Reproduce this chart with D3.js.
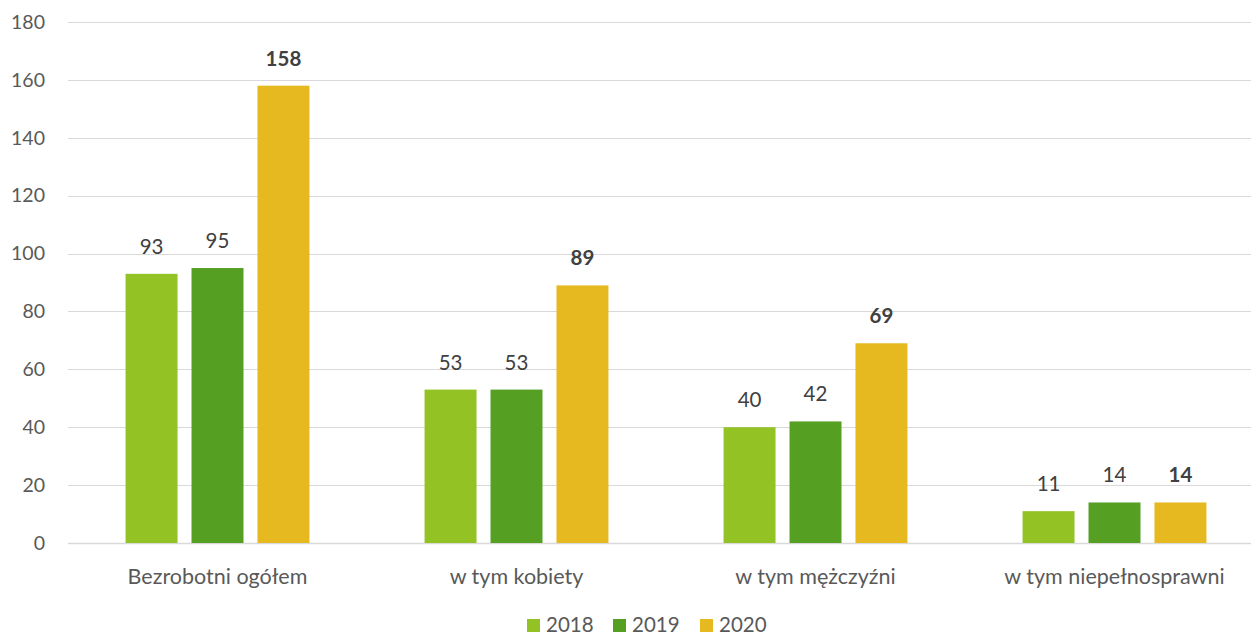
<!DOCTYPE html>
<html>
<head>
<meta charset="utf-8">
<script src="https://cdn.jsdelivr.net/npm/d3@7"></script>
<style>
  body { margin: 0; background: #fff; }
  svg text { font-family: Lato, "Open Sans", sans-serif; }
</style>
</head>
<body>
<div id="chart"></div>
<script>
(function () {

    // data
    var categories = ["Bezrobotni ogółem", "w tym kobiety", "w tym mężczyźni", "w tym niepełnosprawni"];
    var years = ["2018", "2019", "2020"];
    var values2018 = [93, 53, 40, 11];
    var values2019 = [95, 53, 42, 14];
    var values2020 = [158, 89, 69, 14];
    var yTicks = [0, 20, 40, 60, 80, 100, 120, 140, 160, 180];
    var colors = ["#93c225", "#55a023", "#e6b921"];

    var series = [values2018, values2019, values2020];

    var W = 1251, H = 635;
    var svg = d3.select("#chart").append("svg")
        .attr("width", W)
        .attr("height", H);

    var y = d3.scaleLinear().domain([0, 180]).range([543, 22]);

    var x0 = d3.scaleBand().domain(categories).range([68, 1264])
        .paddingInner(0.385).paddingOuter(0.1925);

    var x1 = d3.scaleBand().domain(years).range([0, x0.bandwidth()])
        .paddingInner(0.212).paddingOuter(0);

    // grid lines
    svg.append("g").selectAll("line")
        .data(yTicks).enter().append("line")
        .attr("x1", 68)
        .attr("x2", W)
        .attr("y1", function (d) { return Math.round(y(d)) + 0.5; })
        .attr("y2", function (d) { return Math.round(y(d)) + 0.5; })
        .attr("stroke", "#d9d9d9")
        .attr("stroke-width", function (d) { return d === 0 ? 1.5 : 1; });

    // y axis labels
    var yAxis = d3.axisLeft(y).tickValues(yTicks).tickSize(0).tickPadding(0);
    var ya = svg.append("g").attr("transform", "translate(45,0)").call(yAxis);
    ya.select(".domain").remove();
    ya.selectAll("text")
        .attr("fill", "#595959")
        .style("font-size", "19.5px")
        .style("font-family", "Lato, 'Open Sans', sans-serif");

    // bars
    var groups = svg.append("g").selectAll("g")
        .data(categories).enter().append("g")
        .attr("transform", function (d) { return "translate(" + x0(d) + ",0)"; });

    groups.each(function (cat, ci) {
        var g = d3.select(this);
        years.forEach(function (yr, si) {
            var v = series[si][ci];
            g.append("rect")
                .attr("x", x1(yr))
                .attr("y", y(v))
                .attr("width", x1.bandwidth())
                .attr("height", y(0) - y(v))
                .attr("fill", colors[si]);
            g.append("text")
                .attr("x", x1(yr) + x1.bandwidth() / 2)
                .attr("y", y(v) - 20)
                .attr("text-anchor", "middle")
                .attr("fill", "#404040")
                .style("font-size", "20.5px")
                .style("font-weight", si === 2 ? "bold" : "normal")
                .text(v);
        });
    });

    // category labels
    svg.append("g").selectAll("text")
        .data(categories).enter().append("text")
        .attr("x", function (d) { return x0(d) + x0.bandwidth() / 2; })
        .attr("y", 584)
        .attr("text-anchor", "middle")
        .attr("fill", "#595959")
        .style("font-size", "21.5px")
        .text(function (d) { return d; });

    // legend
    var legX = [527, 613, 700];
    var leg = svg.append("g").selectAll("g")
        .data(years).enter().append("g")
        .attr("transform", function (d, i) { return "translate(" + legX[i] + ",619)"; });
    leg.append("rect")
        .attr("width", 13).attr("height", 13)
        .attr("fill", function (d, i) { return colors[i]; });
    leg.append("text")
        .attr("x", 19).attr("y", 13)
        .attr("fill", "#595959")
        .style("font-size", "20.5px")
        .text(function (d) { return d; });

})();
</script>
</body>
</html>
